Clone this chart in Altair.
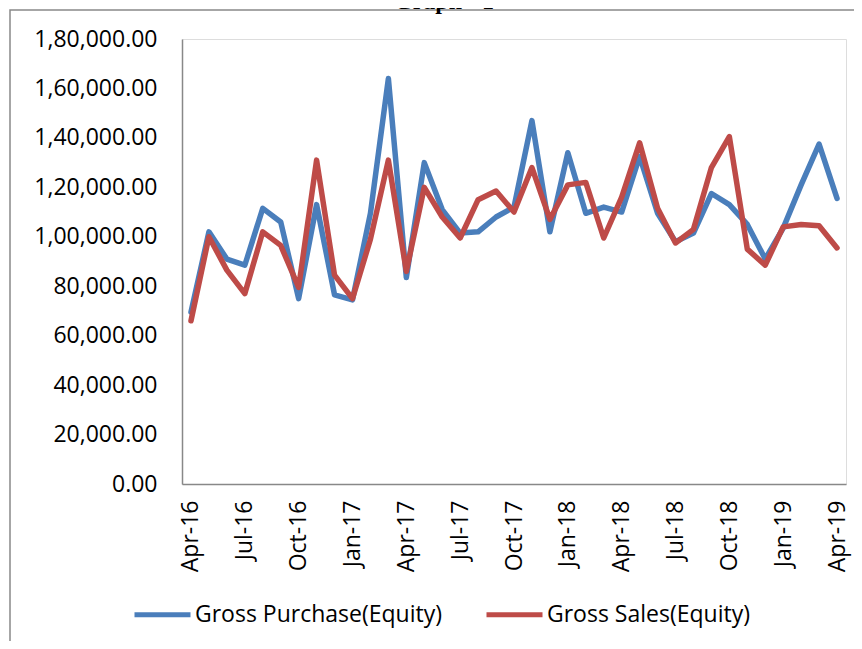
import altair as alt
import pandas as pd

# ---- data -------------------------------------------------------------
months = ["Apr-16", "May-16", "Jun-16", "Jul-16", "Aug-16", "Sep-16", "Oct-16", "Nov-16", "Dec-16",
          "Jan-17", "Feb-17", "Mar-17", "Apr-17", "May-17", "Jun-17", "Jul-17", "Aug-17", "Sep-17",
          "Oct-17", "Nov-17", "Dec-17", "Jan-18", "Feb-18", "Mar-18", "Apr-18", "May-18", "Jun-18",
          "Jul-18", "Aug-18", "Sep-18", "Oct-18", "Nov-18", "Dec-18", "Jan-19", "Feb-19", "Mar-19",
          "Apr-19"]
gross_purchase = [69500, 102000, 91000, 88500, 111500, 106000, 75000, 113000, 76500,
                  74500, 109500, 164000, 83500, 130000, 111000, 101500, 102000, 108000,
                  112000, 147000, 102000, 134000, 109500, 112000, 110000, 132500, 109500,
                  98000, 101500, 117500, 113000, 105000, 91000, 103500, 121000, 137500,
                  115500]
gross_sales = [66000, 100000, 86500, 77000, 102000, 96500, 79500, 131000, 84500,
               75000, 99000, 131000, 86000, 120000, 108000, 99500, 115000, 118500,
               110000, 128000, 107000, 121000, 122000, 99500, 116000, 138000, 111500,
               97500, 103000, 128000, 140500, 95000, 88500, 104000, 105000, 104500,
               95500]
series_names = ["Gross Purchase(Equity)", "Gross Sales(Equity)"]
series_colors = ["#4A7EBB", "#BE4B48"]
y_ticks = [0, 20000, 40000, 60000, 80000, 100000, 120000, 140000, 160000, 180000]
y_tick_labels = ["0.00", "20,000.00", "40,000.00", "60,000.00", "80,000.00", "1,00,000.00",
                 "1,20,000.00", "1,40,000.00", "1,60,000.00", "1,80,000.00"]
x_tick_idx = list(range(0, 37, 3))
title_text = "Graph - 1"

# ---- build table --------------------------------------------------------
rows = []
for name, vals in zip(series_names, [gross_purchase, gross_sales]):
    for i, (m, v) in enumerate(zip(months, vals)):
        rows.append({"idx": i, "month": m, "value": v, "series": name})
df = pd.DataFrame(rows)


def ternary(pairs, default="''"):
    expr = default
    for val, lab in reversed(pairs):
        expr = f"datum.value == {val} ? '{lab}' : ({expr})"
    return expr


y_expr = ternary(list(zip(y_ticks, y_tick_labels)))
x_expr = ternary([(i, months[i]) for i in x_tick_idx])

FONT = "Open Sans"
W, H = 664, 445

lines = alt.Chart(df).mark_line(strokeWidth=5.5, strokeJoin="round", strokeCap="round").encode(
    x=alt.X("idx:Q", scale=alt.Scale(domain=[-0.5, 36.5], nice=False, zero=False),
            axis=alt.Axis(values=x_tick_idx, labelExpr=x_expr, labelAngle=270, labelAlign="right",
                          labelBaseline="middle", ticks=False, tickSize=0, labelPadding=16,
                          grid=False, title=None, labelFont=FONT, labelFontSize=23,
                          labelColor="#000000", domainColor="#888888", domainWidth=1.5,
                          labelOverlap=False)),
    y=alt.Y("value:Q", scale=alt.Scale(domain=[0, 180000], nice=False),
            axis=alt.Axis(values=y_ticks, labelExpr=y_expr, ticks=False, tickSize=0,
                          labelPadding=25, grid=False, title=None, labelFont=FONT,
                          labelFontSize=23, labelColor="#000000", domainColor="#888888",
                          domainWidth=1.5)),
    color=alt.Color("series:N", scale=alt.Scale(domain=series_names, range=series_colors),
                    legend=alt.Legend(orient="none", legendX=-50, legendY=545,
                                      direction="horizontal", title=None,
                                      symbolType="stroke", symbolSize=3136,
                                      symbolStrokeWidth=5, labelFont=FONT, labelFontSize=23,
                                      labelColor="#000000", labelLimit=400, labelOffset=2,
                                      columnPadding=33)),
    order=alt.Order("idx:Q"),
)

border = alt.Chart(alt.Data(values=[{"b": 1}])).mark_rect(
    fill=None, stroke="#898989", strokeWidth=1.5
).encode(x=alt.value(-172), y=alt.value(-29), x2=alt.value(W + 200), y2=alt.value(H + 400))

title = alt.Chart(alt.Data(values=[{"t": title_text}])).mark_text(
    font="Liberation Serif", fontWeight="bold", fontSize=24, baseline="alphabetic",
    align="center", color="#000000"
).encode(text="t:N", x=alt.value(262), y=alt.value(-30))

chart = alt.layer(border, lines, title).properties(
    width=W, height=H,
    autosize=alt.AutoSizeParams(type="none"),
    padding={"left": 174, "top": 31, "right": 8, "bottom": 157},
).configure_view(stroke=None).configure(background="#ffffff")

chart.save("out.html", embed_options={"renderer": "svg", "actions": False})
